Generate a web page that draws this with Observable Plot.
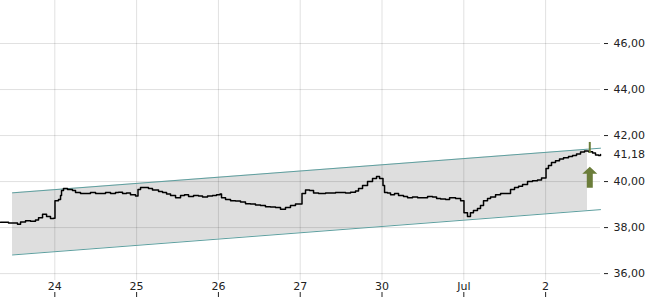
<!DOCTYPE html>
<html><head><meta charset="utf-8">
<script src="https://cdn.jsdelivr.net/npm/d3@7"></script>
<script src="https://cdn.jsdelivr.net/npm/@observablehq/plot@0.6"></script>
<style>
body{margin:0;background:#fff;}
svg{display:block;}
</style>
</head><body><div id="chart"></div>
<script>
// trading-day positions (0 = 24 Jun) and labels
const dayTicks = [0, 1, 2, 3, 4, 5, 6];
const dayLabels = ["24", "25", "26", "27", "30", "Jul", "2"];
const priceTicks = [36, 38, 40, 42, 44, 46];

// intraday time (in trading days) and price
const t = [
  -0.664,-0.566,-0.456,-0.419,-0.358,-0.297,-0.236,-0.199,-0.150,-0.101,-0.053,-0.016,
  0.002,0.045,0.070,0.082,0.106,0.155,0.216,0.253,0.314,0.375,0.436,0.498,0.559,0.620,0.681,0.742,0.779,0.828,0.877,0.925,0.987,
  1.017,1.048,1.109,1.145,1.194,1.268,1.317,1.366,1.415,1.476,1.537,1.586,1.635,1.696,1.757,1.806,1.867,1.928,1.977,
  2.020,2.038,2.087,2.148,2.209,2.270,2.331,2.392,2.453,2.514,2.575,2.636,2.698,2.759,2.820,2.881,2.942,2.991,
  3.022,3.065,3.114,3.163,3.224,3.310,3.371,3.432,3.493,3.554,3.615,3.676,3.713,3.762,3.823,3.884,3.933,3.970,
  4.012,4.031,4.067,4.104,4.153,4.202,4.263,4.312,4.373,4.435,4.496,4.557,4.618,4.667,4.716,4.777,4.826,4.899,4.961,
  5.002,5.045,5.081,5.118,5.167,5.204,5.241,5.290,5.327,5.388,5.449,5.510,5.571,5.620,5.669,5.718,5.779,5.840,5.901,5.950,
  6.005,6.035,6.072,6.121,6.170,6.219,6.280,6.329,6.378,6.427,6.476,6.525,6.574,6.610,6.647,6.671
];
const price = [
  38.23,38.20,38.15,38.24,38.30,38.28,38.33,38.43,38.58,38.48,38.39,38.41,
  39.17,39.22,39.39,39.61,39.70,39.65,39.61,39.52,39.48,39.48,39.52,39.48,39.48,39.52,39.48,39.52,39.54,39.48,39.50,39.43,39.37,
  39.65,39.74,39.74,39.70,39.63,39.57,39.52,39.46,39.39,39.30,39.39,39.43,39.35,39.39,39.37,39.33,39.37,39.39,39.43,
  39.46,39.30,39.22,39.17,39.15,39.11,39.04,39.02,38.98,38.96,38.91,38.89,38.87,38.80,38.87,38.96,39.02,39.02,
  39.48,39.63,39.61,39.50,39.48,39.50,39.50,39.52,39.52,39.50,39.54,39.59,39.70,39.83,40.00,40.13,40.22,40.13,
  39.83,39.52,39.50,39.43,39.48,39.39,39.35,39.30,39.33,39.30,39.30,39.35,39.33,39.26,39.24,39.22,39.30,39.26,39.17,
  38.65,38.48,38.65,38.74,38.83,38.96,39.17,39.26,39.33,39.43,39.48,39.48,39.65,39.74,39.80,39.87,40.00,40.04,40.07,40.15,
  40.57,40.70,40.83,40.91,40.98,41.04,41.09,41.13,41.20,41.28,41.33,41.30,41.24,41.15,41.13,41.18
];
const lastPrice = 41.18;

// trend channel
const channelT = [-0.517, 6.671];
const channelUpper = [39.51, 41.45];
const channelLower = [36.81, 38.78];
const fillT = [-0.517, 6.512];
const fillUpper = [39.51, 41.41];
const fillLower = [36.81, 38.74];

// signal candle
const signalT = [6.54];
const signalHigh = [41.70];
const signalLow = [41.22];
const signalPrice = [41.30];

const series = t.map((d, i) => ({t: d, price: price[i]}));
const upper = channelT.map((d, i) => ({t: d, v: channelUpper[i]}));
const lower = channelT.map((d, i) => ({t: d, v: channelLower[i]}));
const band = fillT.map((d, i) => ({t: d, lo: fillLower[i], hi: fillUpper[i]}));
const signal = signalT.map((d, i) => ({t: d, hi: signalHigh[i], lo: signalLow[i], p: signalPrice[i]}));

const fmt = v => v.toFixed(2).replace(".", ",");
const olive = "#6b7d3a";
const teal = "#5e9f9f";

const arrowShape = {
  draw(context, l) {
    const hw = 7.5, sw = 3, hl = 7;
    context.moveTo(-sw, 0);
    context.lineTo(-sw, -l + hl);
    context.lineTo(-hw, -l + hl);
    context.lineTo(0, -l);
    context.lineTo(hw, -l + hl);
    context.lineTo(sw, -l + hl);
    context.lineTo(sw, 0);
    context.closePath();
  }
};

const chart = Plot.plot({
  width: 650,
  height: 300,
  marginLeft: 0,
  marginRight: 50,
  marginTop: 0,
  marginBottom: 20,
  x: {domain: [-0.664, 6.671]},
  y: {domain: [35.7, 47.87]},
  style: {fontFamily: "DejaVu Sans, sans-serif", fontSize: "11px", color: "#222", background: "#fff"},
  marks: [
    Plot.areaY(band, {x: "t", y1: "lo", y2: "hi", fill: "#dedede"}),
    Plot.gridY(priceTicks, {stroke: "#000", strokeOpacity: 0.12}),
    Plot.gridX(dayTicks, {stroke: "#000", strokeOpacity: 0.12}),
    Plot.line(upper, {x: "t", y: "v", stroke: teal, strokeWidth: 1}),
    Plot.line(lower, {x: "t", y: "v", stroke: teal, strokeWidth: 1}),
    Plot.line(series, {x: "t", y: "price", curve: "step-after", stroke: "#000", strokeWidth: 1.5}),
    Plot.ruleX(signal, {x: "t", y1: "lo", y2: "hi", stroke: olive, strokeWidth: 2}),
    Plot.vector(signal, {x: "t", y: "p", length: 21, rotate: 0, anchor: "end", shape: arrowShape, fill: olive, stroke: "none", dy: 15}),
    Plot.axisY(priceTicks, {anchor: "right", tickSize: 4, tickPadding: 6, dx: 3, tickFormat: fmt, label: null}),
    Plot.text([lastPrice], {y: d => d, frameAnchor: "right", dx: 13, textAnchor: "start", text: fmt, fill: "#222"}),
    Plot.axisX(dayTicks, {tickSize: 0, tickPadding: 2, tickFormat: i => dayLabels[i], label: null}),
    Plot.axisX(dayTicks, {tickSize: 5, dy: 12, tickFormat: () => "", label: null})
  ]
});
document.getElementById("chart").append(chart);
</script>
</body></html>
